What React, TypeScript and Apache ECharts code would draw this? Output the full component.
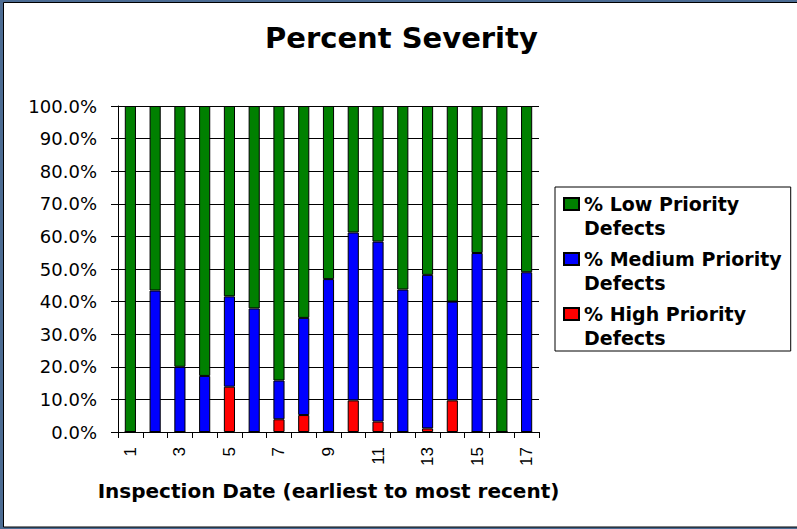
import React, { useEffect, useRef } from "react";
import * as echarts from "echarts";

const categories = ["1", "2", "3", "4", "5", "6", "7", "8", "9", "10", "11", "12", "13", "14", "15", "16", "17"];
const highPriority = [0, 0, 0, 0, 13.9, 0, 3.9, 5.2, 0, 9.7, 3.2, 0, 1.1, 9.7, 0, 0, 0];
const mediumPriority = [0, 43.4, 20.0, 17.2, 27.7, 37.9, 11.9, 29.8, 46.9, 51.5, 55.2, 43.7, 47.1, 30.3, 54.9, 0, 49.0];
const lowPriority = [100, 56.6, 80.0, 82.8, 58.4, 62.1, 84.2, 65.0, 53.1, 38.8, 41.6, 56.3, 51.8, 60.0, 45.1, 100, 51.0];

const seriesNames = ["% High Priority\nDefects", "% Medium Priority\nDefects", "% Low Priority\nDefects"];
const seriesColors = ["#FF0000", "#0000FF", "#008000"];

const BOLD = "DejaVu Sans";
const PLAIN = "DejaVu Sans";
const ARIAL = "Liberation Sans";

// square icon in the top third of a taller legend item box, so it lines up with the first text line
const LEGEND_ICON = "path://M0,0L15,0L15,12L0,12Z M0,36L0,36";

export default function App() {
  const ref = useRef<HTMLDivElement>(null);

  useEffect(() => {
    if (!ref.current) return;
    const chart = echarts.init(ref.current, undefined, { renderer: "svg" });
    const values = [highPriority, mediumPriority, lowPriority];
    chart.setOption({
      animation: false,
      backgroundColor: "#4C6C93",
      graphic: [
        {
          type: "rect",
          z: -10,
          shape: { x: 3.5, y: 2.5, width: 795, height: 524.5 },
          style: { fill: "#FFFFFF", stroke: "#000000", lineWidth: 1 },
        },
      ],
      title: {
        text: "Percent Severity",
        left: 265,
        top: 23,
        padding: 0,
        textStyle: { fontFamily: BOLD, fontWeight: "bold", fontSize: 29, color: "#000" },
      },
      legend: {
        data: [seriesNames[2], seriesNames[1], seriesNames[0]],
        orient: "vertical",
        left: 555,
        top: 187,
        padding: [5, 9, 1, 8],
        itemGap: 7,
        itemWidth: 15,
        itemHeight: 36,
        icon: LEGEND_ICON,
        selectedMode: false,
        borderColor: "#000",
        borderWidth: 1,
        backgroundColor: "#fff",
        textStyle: {
          fontFamily: BOLD,
          fontWeight: "bold",
          fontSize: 19,
          lineHeight: 24,
          color: "#000",
        },
      },
      grid: { left: 118, right: 258, top: 106, bottom: 97, containLabel: false },
      xAxis: {
        type: "category",
        data: categories,
        axisLine: { show: true, lineStyle: { color: "#000", width: 1 } },
        axisTick: { show: true, interval: 0, length: 6, alignWithLabel: false, lineStyle: { color: "#000" } },
        axisLabel: {
          interval: 1,
          rotate: 90,
          margin: 15,
          fontSize: 17,
          fontFamily: ARIAL,
          color: "#000",
        },
        name: "Inspection Date (earliest to most recent)",
        nameLocation: "middle",
        nameGap: 49,
        nameTextStyle: { fontFamily: BOLD, fontWeight: "bold", fontSize: 20, color: "#000" },
      },
      yAxis: {
        type: "value",
        min: 0,
        max: 100,
        interval: 10,
        axisLine: { show: true, lineStyle: { color: "#000", width: 1 } },
        axisTick: { show: true, length: 7, lineStyle: { color: "#000" } },
        axisLabel: {
          margin: 21,
          fontSize: 18,
          fontFamily: PLAIN,
          color: "#000",
          formatter: (v: number) => v.toFixed(1) + "%",
        },
        splitLine: { show: true, lineStyle: { color: "#000", width: 1 } },
      },
      series: values.map((vals, i) => ({
        name: seriesNames[i],
        type: "bar",
        stack: "total",
        barWidth: "45%",
        data: vals,
        itemStyle: { color: seriesColors[i], borderColor: "#000", borderWidth: 1 },
      })),
    });
    return () => chart.dispose();
  }, []);

  return (
    <div
      ref={ref}
      style={{ position: "absolute", left: 0, top: 0, width: 797, height: 529 }}
    />
  );
}
